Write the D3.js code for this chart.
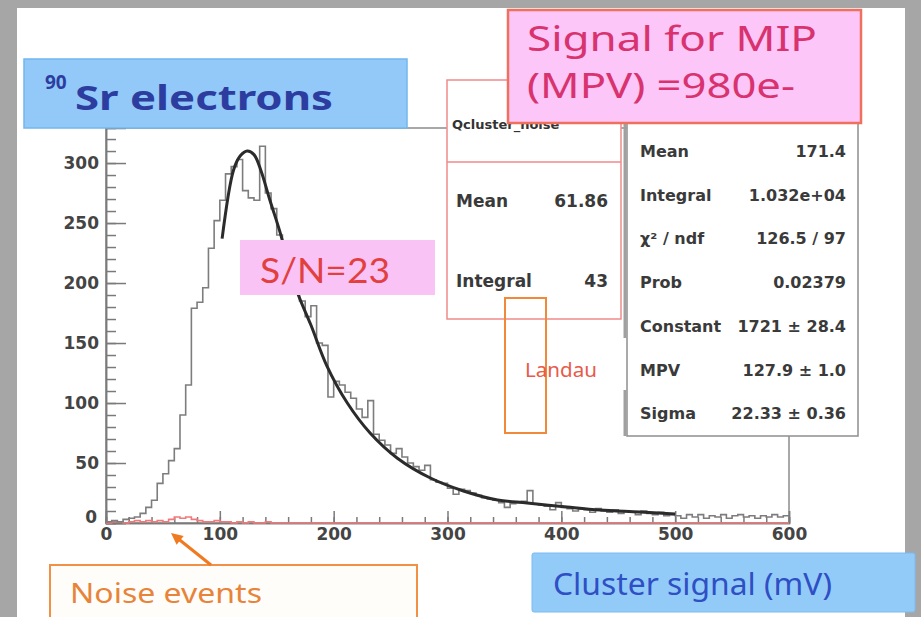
<!DOCTYPE html>
<html>
<head>
<meta charset="utf-8">
<script src="https://cdn.jsdelivr.net/npm/d3@7"></script>
<style>
  body { margin: 0; background: #a6a6a6; }
  svg { display: block; }
</style>
</head>
<body>
<svg id="chart" width="921" height="617"></svg>
<script>
// cluster signal histogram, 120 bins of 5 mV from 0 to 600
const binWidth = 5;
const signalCounts = [
  1, 2, 1, 3, 4, 5, 8, 13, 19, 33,
  41, 52, 62, 90, 115, 179, 184, 196, 229, 252,
  269, 291, 297, 303, 277, 271, 269, 314, 275, 262,
  240, 228, 213, 198, 185, 172, 181, 150, 148, 105,
  118, 115, 109, 104, 95, 88, 102, 74, 69, 65,
  58, 62, 55, 50, 47, 44, 48, 36, 34, 33,
  29, 24, 28, 27, 25, 23, 21, 20, 19, 17,
  13, 16, 17, 18, 27, 16, 15, 14, 11, 17,
  13, 12, 10, 12, 11, 9, 12, 10, 9, 11,
  8, 10, 9, 7, 10, 8, 7, 9, 6, 7,
  6, 4, 7, 5, 7, 4, 6, 5, 7, 4,
  6, 7, 5, 6, 4, 6, 5, 7, 5, 6
];
// noise events (integral 43), same binning
const noiseCounts = [
  0, 1, 1, 0, 1, 2, 1, 2, 1, 2,
  1, 3, 5, 4, 5, 3, 2, 1, 1, 2,
  1, 1, 0, 1, 0, 1, 0, 0, 1, 0
].concat(new Array(90).fill(0));

// Landau fit curve
const fitX = [102, 112, 118, 124, 130, 136, 144, 153, 161, 169, 180, 194, 212, 232, 256, 285, 314, 344, 370, 405, 434, 469, 500];
const fitY = [237, 294, 306, 310, 307, 294, 269, 242, 214, 190, 165, 131, 100, 75, 54, 37.5, 26.7, 19.2, 16.7, 13.3, 10.8, 9.2, 7.5];

const xTicks = [0, 100, 200, 300, 400, 500, 600];
const yTicks = [0, 50, 100, 150, 200, 250, 300];

const noiseStatLabels = ["Mean", "Integral"];
const noiseStatValues = ["61.86", "43"];
const fitStatLabels = ["Mean", "Integral", "\u03c7\u00b2 / ndf", "Prob", "Constant", "MPV", "Sigma"];
const fitStatValues = ["171.4", "1.032e+04", "126.5 / 97", "0.02379", "1721 \u00b1 28.4", "127.9 \u00b1 1.0", "22.33 \u00b1 0.36"];

const svg = d3.select("#chart");
const comic = "'Comic Sans MS', 'Noto Sans', sans-serif";
const statFont = "'DejaVu Sans', sans-serif";

// white slide area
svg.append("rect").attr("x", 17).attr("y", 8).attr("width", 888).attr("height", 609).attr("fill", "#fff");

const x = d3.scaleLinear().domain([0, 600]).range([106, 789]);
const y = d3.scaleLinear().domain([0, 329.2]).range([523, 128]);

// frame
svg.append("rect")
  .attr("x", x(0)).attr("y", y(329.2))
  .attr("width", x(600) - x(0)).attr("height", y(0) - y(329.2))
  .attr("fill", "none").attr("stroke", "#8c8c8c").attr("stroke-width", 1.5);

// axes
const styleAxis = g => {
  g.select(".domain").attr("stroke", "#7a7a7a").attr("stroke-width", 1.5);
  g.selectAll(".tick line").attr("stroke", "#7a7a7a").attr("stroke-width", 1.5);
  g.selectAll("text").attr("fill", "#444").attr("font-family", statFont)
    .attr("font-weight", "bold").attr("font-size", 17);
};

svg.append("g").attr("transform", `translate(0,${y(0)})`)
  .call(d3.axisBottom(x).tickValues(d3.range(0, 601, 20)).tickSize(-6).tickFormat(""))
  .call(styleAxis);
svg.append("g").attr("transform", `translate(0,${y(0)})`)
  .call(d3.axisBottom(x).tickValues(xTicks).tickSize(-12).tickPadding(5).tickFormat(d3.format("d")))
  .call(styleAxis);

svg.append("g").attr("transform", `translate(${x(0)},0)`)
  .call(d3.axisLeft(y).tickValues(d3.range(0, 321, 10)).tickSize(-10).tickFormat(""))
  .call(styleAxis);
const yAxis = svg.append("g").attr("transform", `translate(${x(0)},0)`)
  .call(d3.axisLeft(y).tickValues(yTicks).tickSize(-20).tickPadding(7).tickFormat(d3.format("d")))
  .call(styleAxis);
yAxis.selectAll(".tick").filter(d => d === 0).select("text").attr("dy", "-0.05em").attr("x", -9);

// histograms as step outlines
const stepPoints = counts => counts.map((c, i) => [i * binWidth, c]).concat([[counts.length * binWidth, counts[counts.length - 1]]]);
const stepLine = d3.line().x(d => x(d[0])).y(d => y(d[1])).curve(d3.curveStepAfter);

svg.append("path").datum(stepPoints(noiseCounts))
  .attr("d", stepLine).attr("fill", "none").attr("stroke", "#f07a7a").attr("stroke-width", 1.6);
svg.append("path").datum(stepPoints(signalCounts))
  .attr("d", stepLine).attr("fill", "none").attr("stroke", "#7d7d7d").attr("stroke-width", 1.6);

// fit
const fitLine = d3.line().x((d, i) => x(fitX[i])).y(d => y(d)).curve(d3.curveCatmullRom);
svg.append("path").datum(fitY).attr("d", fitLine)
  .attr("fill", "none").attr("stroke", "#2b2b2b").attr("stroke-width", 3);

// noise stats box
svg.append("rect").attr("x", 447).attr("y", 80).attr("width", 174).attr("height", 239)
  .attr("fill", "#fff").attr("stroke", "#f08a8a").attr("stroke-width", 1.5);
svg.append("line").attr("x1", 447).attr("x2", 621).attr("y1", 162).attr("y2", 162)
  .attr("stroke", "#f08a8a").attr("stroke-width", 1.5);
svg.append("text").attr("x", 452).attr("y", 129).text("Qcluster_noise")
  .attr("font-family", statFont).attr("font-weight", "bold").attr("font-size", 13).attr("fill", "#333");
noiseStatLabels.forEach((lab, i) => {
  const by = 207 + i * 80;
  svg.append("text").attr("x", 456).attr("y", by).text(lab)
    .attr("font-family", statFont).attr("font-weight", "bold").attr("font-size", 17).attr("fill", "#3a3a3a");
  svg.append("text").attr("x", 608).attr("y", by).attr("text-anchor", "end").text(noiseStatValues[i])
    .attr("font-family", statFont).attr("font-weight", "bold").attr("font-size", 17).attr("fill", "#3a3a3a");
});

// fit stats box
svg.append("rect").attr("x", 627).attr("y", 112).attr("width", 231).attr("height", 324)
  .attr("fill", "#fff").attr("stroke", "#8e8e8e").attr("stroke-width", 1.5);
svg.append("line").attr("x1", 625).attr("x2", 625).attr("y1", 112).attr("y2", 338)
  .attr("stroke", "#a0a0a0").attr("stroke-width", 3);
svg.append("line").attr("x1", 625).attr("x2", 625).attr("y1", 390).attr("y2", 436)
  .attr("stroke", "#a0a0a0").attr("stroke-width", 3);
fitStatLabels.forEach((lab, i) => {
  const by = 157 + i * 43.7;
  svg.append("text").attr("x", 640).attr("y", by).text(lab)
    .attr("font-family", statFont).attr("font-weight", "bold").attr("font-size", 16).attr("fill", "#3a3a3a");
  svg.append("text").attr("x", 846).attr("y", by).attr("text-anchor", "end").text(fitStatValues[i])
    .attr("font-family", statFont).attr("font-weight", "bold").attr("font-size", 16).attr("fill", "#3a3a3a");
});

// "Signal for MIP" note
svg.append("rect").attr("x", 508).attr("y", 10).attr("width", 353).attr("height", 113)
  .attr("fill", "#fcc6f8").attr("stroke", "#f0705e").attr("stroke-width", 2.5);
svg.append("text").attr("x", 527).attr("y", 51).text("Signal for MIP")
  .attr("font-family", comic).attr("font-size", 34).attr("fill", "#d8336f")
  .attr("textLength", 290).attr("lengthAdjust", "spacingAndGlyphs");
svg.append("text").attr("x", 527).attr("y", 98).text("(MPV) =980e-")
  .attr("font-family", comic).attr("font-size", 34).attr("fill", "#d8336f")
  .attr("textLength", 268).attr("lengthAdjust", "spacingAndGlyphs");

// title box
svg.append("rect").attr("x", 24).attr("y", 59).attr("width", 383).attr("height", 69)
  .attr("fill", "#92c9f8").attr("stroke", "#72b6ee").attr("stroke-width", 1.5);
const title = svg.append("text").attr("x", 45).attr("y", 110)
  .attr("font-family", comic).attr("font-weight", "bold").attr("fill", "#2c3d9f");
title.append("tspan").attr("font-size", 19).attr("dy", -21).text("90");
title.append("tspan").attr("x", 75).attr("dy", 21).attr("font-size", 34)
  .attr("textLength", 258).attr("lengthAdjust", "spacingAndGlyphs").text("Sr electrons");

// S/N note
svg.append("rect").attr("x", 240).attr("y", 240).attr("width", 195).attr("height", 55).attr("fill", "#f9c3f5");
svg.append("text").attr("x", 260).attr("y", 283).text("S/N=23")
  .attr("font-family", "Lato, 'Noto Sans', sans-serif").attr("font-size", 34).attr("fill", "#e2403f")
  .attr("textLength", 130).attr("lengthAdjust", "spacingAndGlyphs");

// Landau marker
svg.append("rect").attr("x", 505).attr("y", 298).attr("width", 41).attr("height", 135)
  .attr("fill", "none").attr("stroke", "#f08a3a").attr("stroke-width", 2);
svg.append("text").attr("x", 525).attr("y", 377).text("Landau")
  .attr("font-family", comic).attr("font-size", 20).attr("fill", "#e85a4a")
  .attr("textLength", 72).attr("lengthAdjust", "spacingAndGlyphs");

// noise events note with arrow
svg.append("rect").attr("x", 50).attr("y", 565).attr("width", 367).attr("height", 70)
  .attr("fill", "#fffdf9").attr("stroke", "#f29045").attr("stroke-width", 2);
svg.append("text").attr("x", 70).attr("y", 603).text("Noise events")
  .attr("font-family", comic).attr("font-size", 28).attr("fill", "#e8843a")
  .attr("textLength", 192).attr("lengthAdjust", "spacingAndGlyphs");
const tail = [211, 565], tip = [171, 533];
const ang = Math.atan2(tip[1] - tail[1], tip[0] - tail[0]);
const head = 13;
svg.append("line").attr("x1", tail[0]).attr("y1", tail[1])
  .attr("x2", tip[0] - Math.cos(ang) * 8).attr("y2", tip[1] - Math.sin(ang) * 8)
  .attr("stroke", "#f07a20").attr("stroke-width", 3);
svg.append("polygon").attr("fill", "#f07a20").attr("points", [
  tip,
  [tip[0] - head * Math.cos(ang - 0.45), tip[1] - head * Math.sin(ang - 0.45)],
  [tip[0] - head * Math.cos(ang + 0.45), tip[1] - head * Math.sin(ang + 0.45)]
].map(p => p.join(",")).join(" "));

// x-axis title box
svg.append("rect").attr("x", 532).attr("y", 553).attr("width", 383).attr("height", 59).attr("rx", 2)
  .attr("fill", "#93cbf8").attr("stroke", "#7bbcf0").attr("stroke-width", 1);
svg.append("text").attr("x", 553).attr("y", 595).text("Cluster signal (mV)")
  .attr("font-family", comic).attr("font-size", 31).attr("fill", "#2f4fc4")
  .attr("textLength", 279).attr("lengthAdjust", "spacingAndGlyphs");
</script>
</body>
</html>
